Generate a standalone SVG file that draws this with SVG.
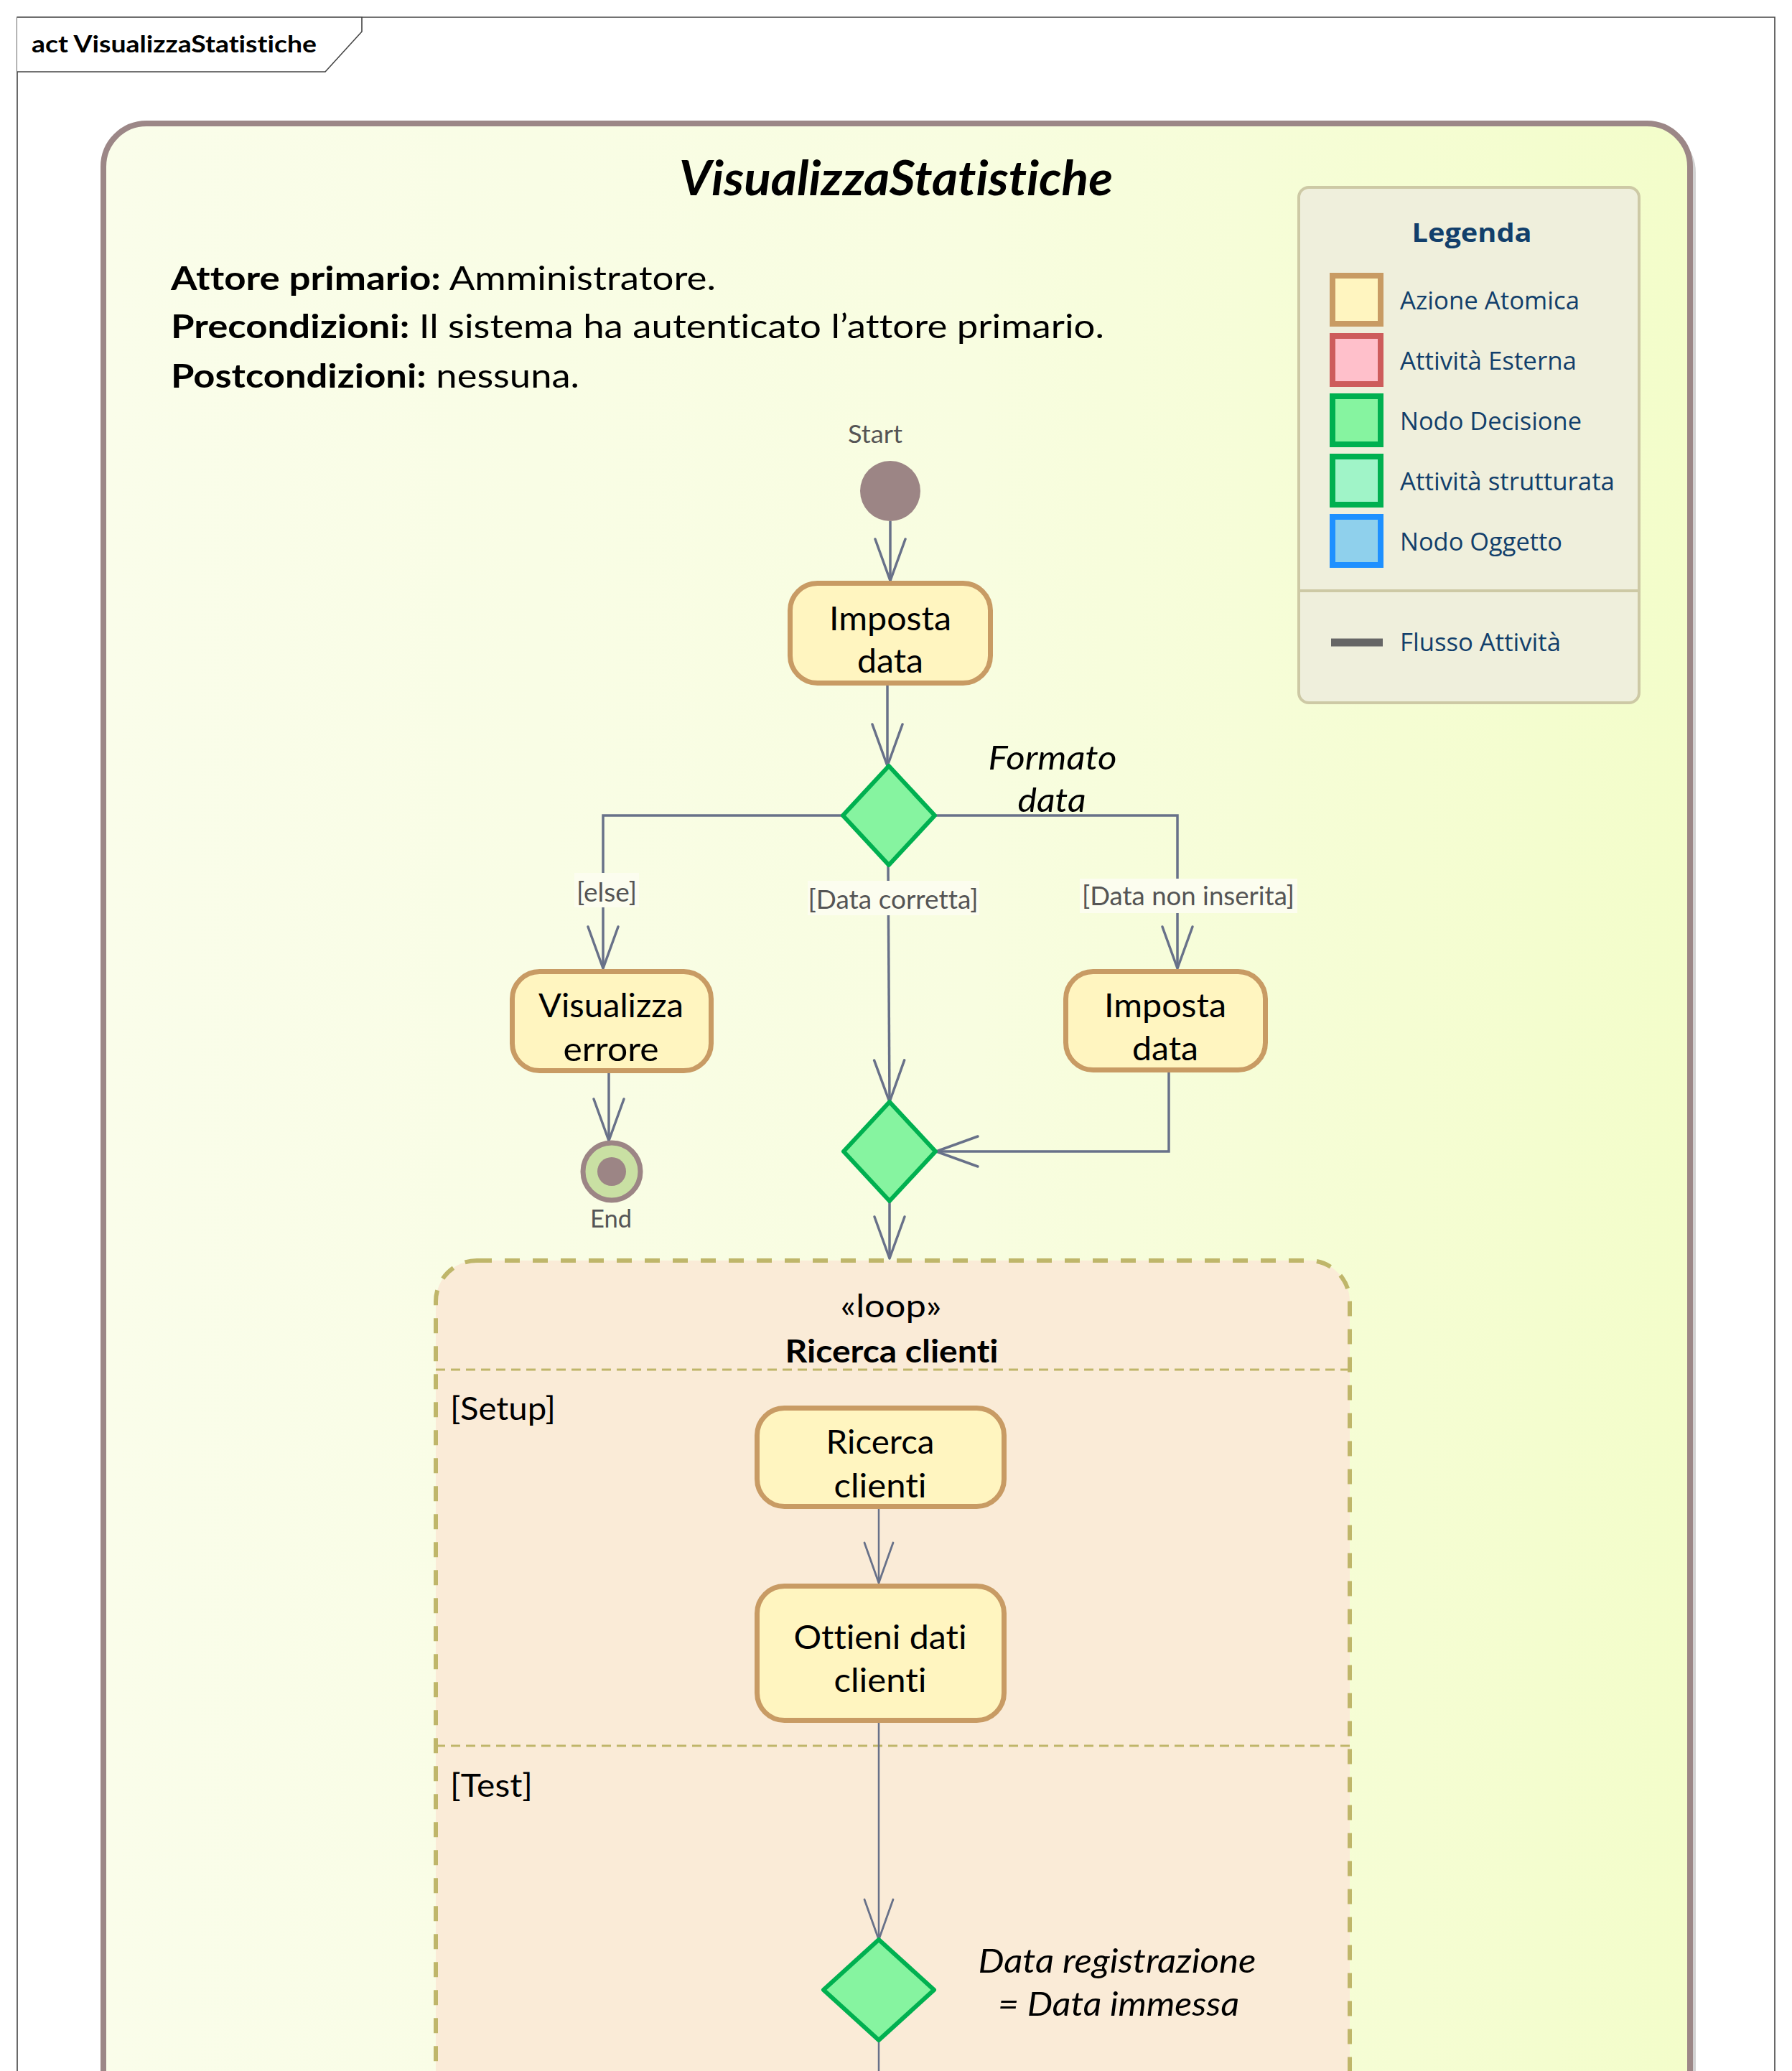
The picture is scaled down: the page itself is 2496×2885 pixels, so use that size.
<svg xmlns="http://www.w3.org/2000/svg" width="2496" height="2885" viewBox="0 0 2496 2885">
<style>
text{font-variant-ligatures:none;font-feature-settings:"liga" 0,"clig" 0}
.t{font-family:Lato,"Liberation Sans",sans-serif;fill:#000}
.b{font-weight:bold}
.i{font-style:italic}
.c{text-anchor:middle}
.node{font-size:47px}
.guard{font-size:36px;fill:#555}
.lg{font-family:"Open Sans","Noto Sans",sans-serif;font-size:35px;fill:#123f6b}
.act{fill:#fff5c0;stroke:#c89b64;stroke-width:7}
.dec{fill:#86f4a0;stroke:#00b050;stroke-width:6;stroke-linejoin:round}
.flow{fill:none;stroke:#687189;stroke-width:3.5}
.flow2{fill:none;stroke:#687189;stroke-width:2.5}
.lblbg{fill:#fcfdef}
</style>
<defs>
<linearGradient id="cg" x1="0" y1="0" x2="1" y2="0">
<stop offset="0" stop-color="#fafdea"/>
<stop offset="0.55" stop-color="#f8fde0"/>
<stop offset="1" stop-color="#f3fdca"/>
</linearGradient>
<marker id="ah" markerUnits="userSpaceOnUse" markerWidth="80" markerHeight="60" refX="0" refY="0" orient="auto" overflow="visible">
<path d="M-58,-21 L0,0 L-58,21" fill="none" stroke="#687189" stroke-width="3.5" stroke-linecap="round" stroke-linejoin="round"/>
</marker>
<marker id="ah2" markerUnits="userSpaceOnUse" markerWidth="80" markerHeight="60" refX="0" refY="0" orient="auto" overflow="visible">
<path d="M-56,-20 L0,0 L-56,20" fill="none" stroke="#687189" stroke-width="2.8" stroke-linecap="round" stroke-linejoin="round"/>
</marker>
</defs>
<rect x="0" y="0" width="2496" height="2885" fill="#ffffff"/>

<g id="frame">
<path d="M24,2900 V24 H2472 V2900" fill="none" stroke="#444" stroke-width="1.6"/>
<path d="M24,24 H504 V44 L453,100 H24" fill="#ffffff" stroke="#444" stroke-width="1.6"/>
<text class="t b" x="44" y="73" font-size="33" textLength="397" lengthAdjust="spacingAndGlyphs">act VisualizzaStatistiche</text>
</g>

<g id="container">
<rect x="152" y="180" width="2210" height="2900" rx="60" fill="#d2d2d2"/>
<rect x="144" y="172" width="2210" height="2900" rx="60" fill="url(#cg)" stroke="#9c8787" stroke-width="8"/>
<text class="t b i c" x="1248" y="272" font-size="66" textLength="604" lengthAdjust="spacingAndGlyphs">VisualizzaStatistiche</text>
<text class="t" x="238" y="404" font-size="46" textLength="759" lengthAdjust="spacingAndGlyphs"><tspan class="b">Attore primario:</tspan> Amministratore.</text>
<text class="t" x="238" y="471" font-size="46" textLength="1300" lengthAdjust="spacingAndGlyphs"><tspan class="b">Precondizioni:</tspan> Il sistema ha autenticato l’attore primario.</text>
<text class="t" x="238" y="540" font-size="46" textLength="569" lengthAdjust="spacingAndGlyphs"><tspan class="b">Postcondizioni:</tspan> nessuna.</text>
</g>

<g id="legend">
<rect x="1809" y="261" width="474" height="718" rx="14" fill="#efefdc" stroke="#cdc9a5" stroke-width="4"/>
<line x1="1809" y1="823" x2="2283" y2="823" stroke="#cdc9a5" stroke-width="4"/>
<text class="lg c" x="2050" y="337" font-size="48" font-weight="bold" textLength="167" lengthAdjust="spacingAndGlyphs">Legenda</text>
<rect x="1856" y="384" width="67" height="67" fill="#fff5c0" stroke="#c89b64" stroke-width="8"/>
<text class="lg" x="1950" y="431" textLength="250" lengthAdjust="spacingAndGlyphs">Azione Atomica</text>
<rect x="1856" y="468" width="67" height="67" fill="#ffc0cb" stroke="#cd5c5c" stroke-width="8"/>
<text class="lg" x="1950" y="515" textLength="246" lengthAdjust="spacingAndGlyphs">Attività Esterna</text>
<rect x="1856" y="552" width="67" height="67" fill="#86f4a0" stroke="#00b050" stroke-width="8"/>
<text class="lg" x="1950" y="599" textLength="253" lengthAdjust="spacingAndGlyphs">Nodo Decisione</text>
<rect x="1856" y="636" width="67" height="67" fill="#a0f4c8" stroke="#00b050" stroke-width="8"/>
<text class="lg" x="1950" y="683" textLength="299" lengthAdjust="spacingAndGlyphs">Attività strutturata</text>
<rect x="1856" y="720" width="67" height="67" fill="#8fd0ec" stroke="#1e90ff" stroke-width="8"/>
<text class="lg" x="1950" y="767" textLength="226" lengthAdjust="spacingAndGlyphs">Nodo Oggetto</text>
<line x1="1854" y1="895" x2="1926" y2="895" stroke="#666666" stroke-width="11"/>
<text class="lg" x="1950" y="907" textLength="224" lengthAdjust="spacingAndGlyphs">Flusso Attività</text>
</g>

<g id="loop">
<rect x="607" y="1756" width="1273" height="1300" rx="57" fill="#faebd7" stroke="#bfb66a" stroke-width="6" stroke-dasharray="21 18"/>
<line x1="607" y1="1908" x2="1880" y2="1908" stroke="#bfb66a" stroke-width="3" stroke-dasharray="13 8"/>
<line x1="607" y1="2432" x2="1880" y2="2432" stroke="#bfb66a" stroke-width="3" stroke-dasharray="13 8"/>
<text class="t c" x="1241" y="1835" font-size="44" textLength="141" lengthAdjust="spacingAndGlyphs">«loop»</text>
<text class="t b c" x="1242" y="1898" font-size="44" textLength="297" lengthAdjust="spacingAndGlyphs">Ricerca clienti</text>
<text class="t" x="627" y="1978" font-size="44" textLength="147" lengthAdjust="spacingAndGlyphs">[Setup]</text>
<text class="t" x="627" y="2503" font-size="44" textLength="115" lengthAdjust="spacingAndGlyphs">[Test]</text>
</g>

<g id="connectors">
<line class="flow" x1="1240" y1="726" x2="1240" y2="809" marker-end="url(#ah)"/>
<line class="flow" x1="1236" y1="955" x2="1236" y2="1067" marker-end="url(#ah)"/>
<path class="flow" d="M1174,1136 H840 V1349" marker-end="url(#ah)"/>
<path class="flow" d="M1237,1205 L1239,1535" marker-end="url(#ah)"/>
<path class="flow" d="M1302,1136 H1640 V1349" marker-end="url(#ah)"/>
<line class="flow" x1="848" y1="1495" x2="848" y2="1589" marker-end="url(#ah)"/>
<path class="flow" d="M1628,1494 V1604 H1304" marker-end="url(#ah)"/>
<line class="flow" x1="1239" y1="1673" x2="1239" y2="1753" marker-end="url(#ah)"/>
<line class="flow2" x1="1224" y1="2102" x2="1224" y2="2205" marker-end="url(#ah2)"/>
<line class="flow2" x1="1224" y1="2400" x2="1224" y2="2702" marker-end="url(#ah2)"/>
<line class="flow2" x1="1224" y1="2842" x2="1224" y2="2900"/>
<rect class="lblbg" x="800" y="1216" width="90" height="48"/>
<text class="t guard c" x="845" y="1256" textLength="84" lengthAdjust="spacingAndGlyphs">[else]</text>
<rect class="lblbg" x="1125" y="1227" width="239" height="48"/>
<text class="t guard c" x="1244" y="1266" textLength="237" lengthAdjust="spacingAndGlyphs">[Data corretta]</text>
<rect class="lblbg" x="1504" y="1224" width="303" height="48"/>
<text class="t guard c" x="1655" y="1261" textLength="296" lengthAdjust="spacingAndGlyphs">[Data non inserita]</text>
</g>

<g id="start">
<text class="t c" x="1219" y="617" font-size="34" style="fill:#555" textLength="76" lengthAdjust="spacingAndGlyphs">Start</text>
<circle cx="1240" cy="684" r="42" fill="#9c8585"/>
</g>

<g id="imposta-data-1">
<rect class="act" x="1100.5" y="812.5" width="279" height="139" rx="38"/>
<text class="t node c" x="1240" y="878" textLength="170" lengthAdjust="spacingAndGlyphs">Imposta</text>
<text class="t node c" x="1240" y="937" textLength="92" lengthAdjust="spacingAndGlyphs">data</text>
</g>

<g id="decisione-formato">
<polygon class="dec" points="1238,1067 1302,1136 1238,1205 1174,1136"/>
<text class="t i c" x="1466" y="1072" font-size="46" textLength="179" lengthAdjust="spacingAndGlyphs">Formato</text>
<text class="t i c" x="1465" y="1131" font-size="46" textLength="95" lengthAdjust="spacingAndGlyphs">data</text>
</g>

<g id="visualizza-errore">
<rect class="act" x="713.5" y="1353.5" width="277" height="138" rx="38"/>
<text class="t node c" x="851" y="1417" textLength="202" lengthAdjust="spacingAndGlyphs">Visualizza</text>
<text class="t node c" x="851" y="1478" textLength="133" lengthAdjust="spacingAndGlyphs">errore</text>
</g>

<g id="imposta-data-2">
<rect class="act" x="1484.5" y="1353.5" width="278" height="137" rx="38"/>
<text class="t node c" x="1623" y="1417" textLength="170" lengthAdjust="spacingAndGlyphs">Imposta</text>
<text class="t node c" x="1623" y="1477" textLength="92" lengthAdjust="spacingAndGlyphs">data</text>
</g>

<g id="end">
<circle cx="852" cy="1632" r="40" fill="#c9e0a3" stroke="#9c8585" stroke-width="7"/>
<circle cx="852" cy="1632" r="20" fill="#9c8585"/>
<text class="t c" x="851" y="1710" font-size="34" style="fill:#555" textLength="58" lengthAdjust="spacingAndGlyphs">End</text>
</g>

<g id="merge">
<polygon class="dec" points="1239,1535 1303,1604 1239,1673 1175,1604"/>
</g>

<g id="ricerca-clienti">
<rect class="act" x="1054.5" y="1961.5" width="344" height="137" rx="38"/>
<text class="t node c" x="1226" y="2025" textLength="151" lengthAdjust="spacingAndGlyphs">Ricerca</text>
<text class="t node c" x="1226" y="2086" textLength="129" lengthAdjust="spacingAndGlyphs">clienti</text>
</g>

<g id="ottieni-dati-clienti">
<rect class="act" x="1054.5" y="2209.5" width="344" height="187" rx="38"/>
<text class="t node c" x="1226" y="2297" textLength="241" lengthAdjust="spacingAndGlyphs">Ottieni dati</text>
<text class="t node c" x="1226" y="2357" textLength="129" lengthAdjust="spacingAndGlyphs">clienti</text>
</g>

<g id="decisione-data">
<polygon class="dec" points="1224,2702 1301,2772 1224,2842 1147,2772"/>
<text class="t i c" x="1556" y="2748" font-size="46" textLength="387" lengthAdjust="spacingAndGlyphs">Data registrazione</text>
<text class="t i c" x="1558" y="2808" font-size="46" textLength="336" lengthAdjust="spacingAndGlyphs">= Data immessa</text>
</g>
</svg>
